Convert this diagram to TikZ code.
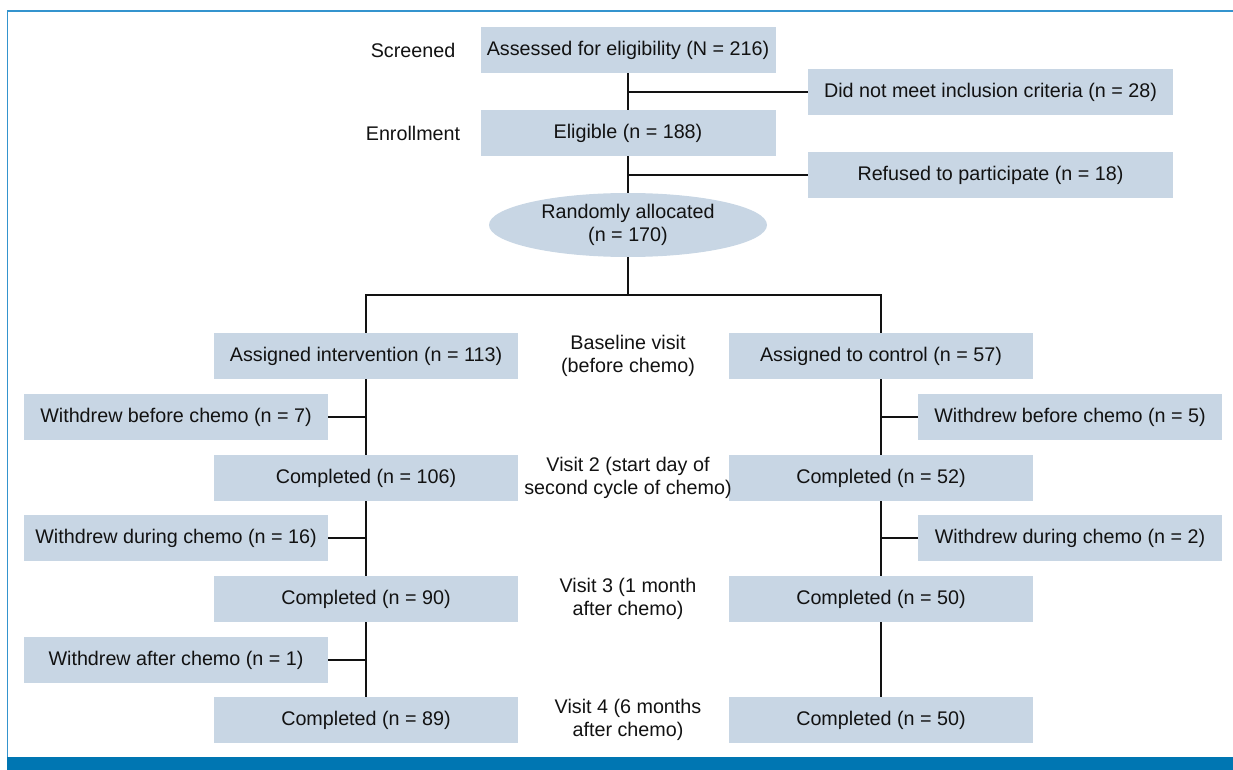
\documentclass[tikz,border=0pt]{standalone}
\usepackage{fontspec}
\setmainfont{Liberation Sans}
\usepackage{tikz}
\usetikzlibrary{
  positioning,
  calc,
  shapes.geometric
}
\definecolor{boxblue}{RGB}{200,214,228}
\definecolor{frameblue}{RGB}{52,148,206}
\definecolor{barblue}{RGB}{0,118,178}
\definecolor{ink}{RGB}{18,18,18}
\tikzstyle{box}=[fill=boxblue, text=ink, minimum width=228pt, minimum height=34.5pt, inner sep=0pt, align=center]
\tikzstyle{widebox}=[box, minimum width=273.75pt]
\tikzstyle{topbox}=[box, minimum width=221.25pt]
\tikzstyle{visit}=[text=ink, inner sep=0pt, align=center]
\tikzstyle{conn}=[draw=ink, line width=2pt]

\begin{document}
\begin{tikzpicture}[x=0.75pt, y=-0.75pt, font=\fontsize{14.8}{17}\selectfont]
    \def\xm{628};
    \def\xl{366};
    \def\xr{881};
    \def\xwl{176};
    \def\xwr{1070};

    \useasboundingbox (0,0) rectangle (1233,770);

    % 枠
    \draw[frameblue, line width=1.2pt] (7.5,757) -- (7.5,11) -- (1233,11);
    \fill[barblue] (6.5,757) rectangle (1233,770);

    % 上段
    \node[visit] (screened) at (413,50) {Screened};
    \node[visit] (enroll) at (413,133) {Enrollment};
    \node[topbox] (assessed) at (\xm,50) {Assessed for eligibility (N = 216)};
    \node[topbox] (eligible) at (\xm,133) {Eligible (n = 188)};
    \node[widebox] (notmeet) at (990.5,92) {Did not meet inclusion criteria (n = 28)};
    \node[widebox] (refused) at (990.5,175) {Refused to participate (n = 18)};
    \node[ellipse, fill=boxblue, text=ink, minimum width=208.5pt, minimum height=48pt, inner sep=0pt, align=center] (alloc) at (\xm,225) {Randomly allocated\\(n = 170)};
    \coordinate (split) at (\xm,295);

    % 介入群
    \node[box] (assignint) at (\xl,356) {Assigned intervention (n = 113)};
    \node[box] (wdbeforeint) at (\xwl,417) {Withdrew before chemo (n = 7)};
    \node[box] (compvtwoint) at (\xl,478) {Completed (n = 106)};
    \node[box] (wdduringint) at (\xwl,538) {Withdrew during chemo (n = 16)};
    \node[box] (compvthreeint) at (\xl,599) {Completed (n = 90)};
    \node[box] (wdafterint) at (\xwl,660) {Withdrew after chemo (n = 1)};
    \node[box] (compvfourint) at (\xl,720) {Completed (n = 89)};

    % 対照群
    \node[box] (assignctl) at (\xr,356) {Assigned to control (n = 57)};
    \node[box] (wdbeforectl) at (\xwr,417) {Withdrew before chemo (n = 5)};
    \node[box] (compvtwoctl) at (\xr,478) {Completed (n = 52)};
    \node[box] (wdduringctl) at (\xwr,538) {Withdrew during chemo (n = 2)};
    \node[box] (compvthreectl) at (\xr,599) {Completed (n = 50)};
    \node[box] (compvfourctl) at (\xr,720) {Completed (n = 50)};

    % 来院
    \node[visit] (vone) at (\xm,356) {Baseline visit\\(before chemo)};
    \node[visit] (vtwo) at (\xm,478) {Visit 2 (start day of\\second cycle of chemo)};
    \node[visit] (vthree) at (\xm,599) {Visit 3 (1 month\\after chemo)};
    \node[visit] (vfour) at (\xm,720) {Visit 4 (6 months\\after chemo)};

    % 線
    \draw[conn] (assessed.south) -- (eligible.north);
    \draw[conn] (notmeet.west) -- (notmeet.west -| assessed.south);
    \draw[conn] (eligible.south) -- (alloc.north);
    \draw[conn] (refused.west) -- (refused.west -| eligible.south);
    \draw[conn] (alloc.south) -- (split);
    \draw[conn] (assignint.north) |- (split) -| (assignctl.north);

    \draw[conn] (assignint.south) -- (compvtwoint.north);
    \draw[conn] (compvtwoint.south) -- (compvthreeint.north);
    \draw[conn] (compvthreeint.south) -- (compvfourint.north);
    \draw[conn] (wdbeforeint.east) -- (wdbeforeint.east -| assignint.south);
    \draw[conn] (wdduringint.east) -- (wdduringint.east -| compvtwoint.south);
    \draw[conn] (wdafterint.east) -- (wdafterint.east -| compvthreeint.south);

    \draw[conn] (assignctl.south) -- (compvtwoctl.north);
    \draw[conn] (compvtwoctl.south) -- (compvthreectl.north);
    \draw[conn] (compvthreectl.south) -- (compvfourctl.north);
    \draw[conn] (wdbeforectl.west) -- (wdbeforectl.west -| assignctl.south);
    \draw[conn] (wdduringctl.west) -- (wdduringctl.west -| compvtwoctl.south);
\end{tikzpicture}
\end{document}
